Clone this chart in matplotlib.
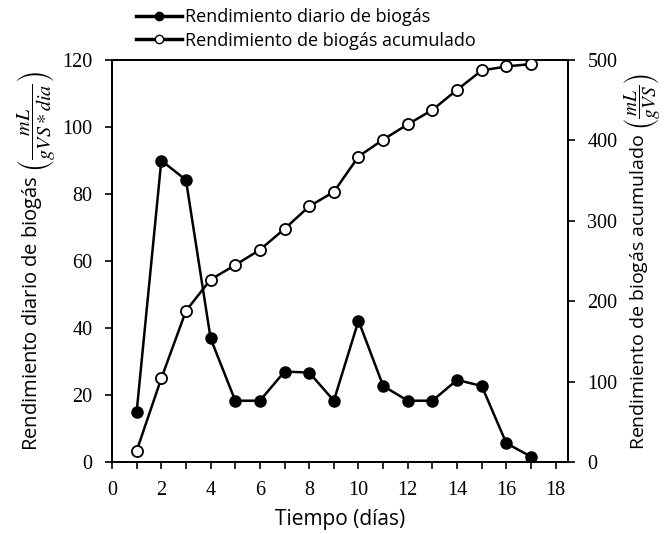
import matplotlib.pyplot as plt
from matplotlib.lines import Line2D
from matplotlib.ticker import MultipleLocator

# daily and cumulative biogas yield per day of digestion
dias = [1, 2, 3, 4, 5, 6, 7, 8, 9, 10, 11, 12, 13, 14, 15, 16, 17]
rend_diario = [15.0, 90.0, 84.2, 36.9, 18.3, 18.3, 27.0, 26.7, 18.3, 42.2,
               22.7, 18.3, 18.3, 24.5, 22.7, 5.6, 1.6]
rend_acumulado = [14, 104, 188, 227, 245, 264, 290, 318, 336, 380,
                  401, 420, 438, 463, 487, 492, 495]

sans = "Open Sans"
serif = "Liberation Serif"
plt.rcParams["mathtext.fontset"] = "stix"

fig = plt.figure(figsize=(6.68, 5.34), dpi=100)
ax = fig.add_axes([0.1677, 0.1348, 0.6826, 0.7528])
ax2 = ax.twinx()

ax.plot(dias, rend_diario, color="black", lw=1.8, marker="o", ms=8,
        mfc="black", mec="black", zorder=3)
ax2.plot(dias, rend_acumulado, color="black", lw=1.8, marker="o", ms=8,
         mfc="white", mec="black", mew=1.3, zorder=3)

ax.set_xlim(0, 18.5)
ax.set_ylim(0, 120)
ax2.set_ylim(0, 500)
ax.xaxis.set_major_locator(MultipleLocator(2))
ax.xaxis.set_minor_locator(MultipleLocator(1))
ax.yaxis.set_major_locator(MultipleLocator(20))
ax2.yaxis.set_major_locator(MultipleLocator(100))

for a in (ax, ax2):
    a.tick_params(which="both", direction="out", width=1.2, length=5,
                  labelsize=14.5, colors="black", pad=9)
    for lab in a.get_xticklabels() + a.get_yticklabels():
        lab.set_fontfamily(serif)
    for s in a.spines.values():
        s.set_linewidth(1.3)

ax.set_xlabel("Tiempo (días)", fontsize=15, family=sans, labelpad=6)
ax.set_ylabel(r"Rendimiento diario de biogás $\left(\dfrac{mL}{gVS*dia}\right)$",
              fontsize=14.5, family=sans, labelpad=3)
ax2.set_ylabel(r"Rendimiento de biogás acumulado $\left(\dfrac{mL}{gVS}\right)$",
               fontsize=14, family=sans, labelpad=4)

handles = [
    Line2D([], [], color="black", lw=2.5, marker="o", ms=6, mfc="black"),
    Line2D([], [], color="black", lw=2.5, marker="o", ms=6, mfc="white"),
]
fig.legend(handles, ["Rendimiento diario de biogás",
                     "Rendimiento de biogás acumulado"],
           loc="upper left", bbox_to_anchor=(0.18, 1.015), frameon=False,
           handlelength=2.5, handletextpad=0.2, labelspacing=0.3,
           prop={"family": sans, "size": 13})

fig.savefig("out.png", dpi=100)
